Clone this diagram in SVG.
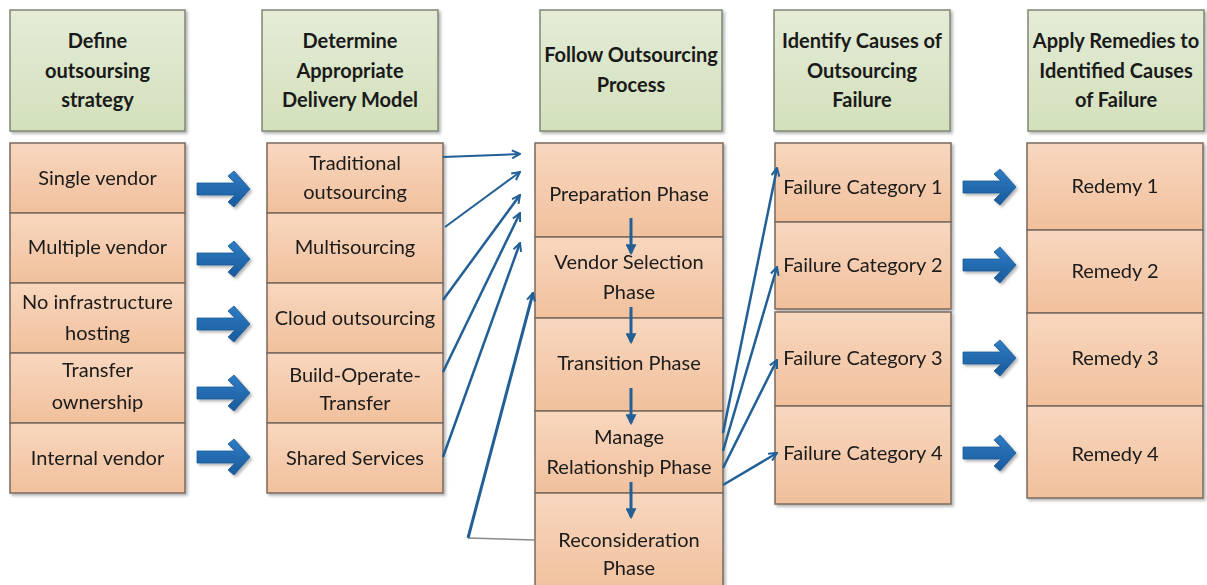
<svg xmlns="http://www.w3.org/2000/svg" width="1207" height="585" viewBox="0 0 1207 585">
  <style>
    .hdr { fill: url(#gGreen); stroke: #7f8774; stroke-width: 1.5; filter: url(#shadow); }
    .cell { fill: url(#gOrange); stroke: #7a6a5e; stroke-width: 1.5; }
    .col { filter: url(#shadow); }
    text { font-family: Lato, "Liberation Sans", sans-serif; fill: #1a1a1a; text-anchor: middle; }
    .ht { font-size: 20px; font-weight: bold; }
    .bt { font-size: 20px; }
    .thin { fill: none; stroke: #215f96; stroke-width: 2.5; marker-end: url(#stick); }
    .down { fill: none; stroke: #215f96; stroke-width: 3; marker-end: url(#tri); }
    .big { fill: url(#gBlue); stroke: #1d5a94; stroke-width: 0.8; filter: url(#shadow); }
  </style>
  <defs>
    <linearGradient id="gGreen" x1="0" y1="0" x2="0" y2="1">
      <stop offset="0" stop-color="#e4ecd7"/>
      <stop offset="1" stop-color="#d3e0bb"/>
    </linearGradient>
    <linearGradient id="gOrange" x1="0" y1="0" x2="0" y2="1">
      <stop offset="0" stop-color="#f8d7bf"/>
      <stop offset="1" stop-color="#f1c09c"/>
    </linearGradient>
    <linearGradient id="gBlue" x1="0" y1="0" x2="0" y2="1">
      <stop offset="0" stop-color="#2f7cc4"/>
      <stop offset="1" stop-color="#195a9c"/>
    </linearGradient>
    <filter id="shadow" x="-10%" y="-10%" width="130%" height="130%">
      <feDropShadow dx="2" dy="2" stdDeviation="1.5" flood-color="#000" flood-opacity="0.3"/>
    </filter>
    <marker id="stick" viewBox="0 0 10 10" refX="9" refY="5" markerWidth="10" markerHeight="10" markerUnits="userSpaceOnUse" orient="auto">
      <path d="M1,1 L9,5 L1,9" fill="none" stroke="#215f96" stroke-width="2"/>
    </marker>
    <marker id="tri" viewBox="0 0 10 10" refX="8" refY="5" markerWidth="11" markerHeight="11" markerUnits="userSpaceOnUse" orient="auto">
      <path d="M0,0 L10,5 L0,10 Z" fill="#215f96"/>
    </marker>
    <!-- thick block arrow, starts at origin and points right -->
    <path id="blockArrow" d="M0,-6 L38,-6 L31,-13 L37,-18 L53,0 L37,18 L31,13 L38,6 L0,6 Z"/>
  </defs>

  <!-- column headers -->
  <g id="hdr-strategy">
    <rect class="hdr" x="10" y="10" width="175" height="121"/>
    <text class="ht" x="97.5" y="48">Define</text>
    <text class="ht" x="97.5" y="78">outsoursing</text>
    <text class="ht" x="97.5" y="107">strategy</text>
  </g>
  <g id="hdr-delivery">
    <rect class="hdr" x="262" y="10" width="176" height="121"/>
    <text class="ht" x="350" y="48">Determine</text>
    <text class="ht" x="350" y="78">Appropriate</text>
    <text class="ht" x="350" y="107">Delivery Model</text>
  </g>
  <g id="hdr-process">
    <rect class="hdr" x="540" y="10" width="182" height="121"/>
    <text class="ht" x="631" y="62">Follow Outsourcing</text>
    <text class="ht" x="631" y="92">Process</text>
  </g>
  <g id="hdr-causes">
    <rect class="hdr" x="774" y="10" width="176" height="121"/>
    <text class="ht" x="862" y="48">Identify Causes of</text>
    <text class="ht" x="862" y="78">Outsourcing</text>
    <text class="ht" x="862" y="107">Failure</text>
  </g>
  <g id="hdr-remedies">
    <rect class="hdr" x="1028" y="10" width="176" height="121"/>
    <text class="ht" x="1116" y="48">Apply Remedies to</text>
    <text class="ht" x="1116" y="78">Identified Causes</text>
    <text class="ht" x="1116" y="107">of Failure</text>
  </g>

  <!-- strategy options -->
  <g class="col">
    <g id="single-vendor">
      <rect class="cell" x="10" y="143" width="175" height="70"/>
      <text class="bt" x="97.5" y="185">Single vendor</text>
    </g>
    <g id="multiple-vendor">
      <rect class="cell" x="10" y="213" width="175" height="70"/>
      <text class="bt" x="97.5" y="254">Multiple vendor</text>
    </g>
    <g id="no-infrastructure">
      <rect class="cell" x="10" y="283" width="175" height="70"/>
      <text class="bt" x="97.5" y="309">No infrastructure</text>
      <text class="bt" x="97.5" y="340">hosting</text>
    </g>
    <g id="transfer-ownership">
      <rect class="cell" x="10" y="353" width="175" height="70"/>
      <text class="bt" x="97.5" y="377">Transfer</text>
      <text class="bt" x="97.5" y="409">ownership</text>
    </g>
    <g id="internal-vendor">
      <rect class="cell" x="10" y="423" width="175" height="70"/>
      <text class="bt" x="97.5" y="465">Internal vendor</text>
    </g>
  </g>

  <!-- delivery models -->
  <g class="col">
    <g id="traditional">
      <rect class="cell" x="267" y="143" width="176" height="70"/>
      <text class="bt" x="355" y="170">Traditional</text>
      <text class="bt" x="355" y="199">outsourcing</text>
    </g>
    <g id="multisourcing">
      <rect class="cell" x="267" y="213" width="176" height="70"/>
      <text class="bt" x="355" y="254">Multisourcing</text>
    </g>
    <g id="cloud">
      <rect class="cell" x="267" y="283" width="176" height="70"/>
      <text class="bt" x="355" y="325">Cloud outsourcing</text>
    </g>
    <g id="bot">
      <rect class="cell" x="267" y="353" width="176" height="70"/>
      <text class="bt" x="355" y="382">Build-Operate-</text>
      <text class="bt" x="355" y="410">Transfer</text>
    </g>
    <g id="shared-services">
      <rect class="cell" x="267" y="423" width="176" height="70"/>
      <text class="bt" x="355" y="465">Shared Services</text>
    </g>
  </g>

  <!-- process phases -->
  <g class="col">
    <g id="preparation">
      <rect class="cell" x="535" y="143" width="188" height="94"/>
      <text class="bt" x="629" y="201">Preparation Phase</text>
    </g>
    <g id="vendor-selection">
      <rect class="cell" x="535" y="237" width="188" height="81"/>
      <text class="bt" x="629" y="269">Vendor Selection</text>
      <text class="bt" x="629" y="299">Phase</text>
    </g>
    <g id="transition">
      <rect class="cell" x="535" y="318" width="188" height="93"/>
      <text class="bt" x="629" y="370">Transition Phase</text>
    </g>
    <g id="manage-relationship">
      <rect class="cell" x="535" y="411" width="188" height="82"/>
      <text class="bt" x="629" y="444">Manage</text>
      <text class="bt" x="629" y="474">Relationship Phase</text>
    </g>
    <g id="reconsideration">
      <rect class="cell" x="535" y="493" width="188" height="100"/>
      <text class="bt" x="629" y="547">Reconsideration</text>
      <text class="bt" x="629" y="575">Phase</text>
    </g>
  </g>

  <!-- failure categories -->
  <g class="col">
    <g id="failure-1">
      <rect class="cell" x="775" y="143" width="176" height="79"/>
      <text class="bt" x="863" y="194">Failure Category 1</text>
    </g>
    <g id="failure-2">
      <rect class="cell" x="775" y="222" width="176" height="87"/>
      <text class="bt" x="863" y="272">Failure Category 2</text>
    </g>
  </g>
  <g class="col">
    <g id="failure-3">
      <rect class="cell" x="775" y="312" width="176" height="94"/>
      <text class="bt" x="863" y="365">Failure Category 3</text>
    </g>
    <g id="failure-4">
      <rect class="cell" x="775" y="406" width="176" height="98"/>
      <text class="bt" x="863" y="460">Failure Category 4</text>
    </g>
  </g>

  <!-- remedies -->
  <g class="col">
    <g id="remedy-1">
      <rect class="cell" x="1027" y="143" width="176" height="87"/>
      <text class="bt" x="1115" y="193">Redemy 1</text>
    </g>
    <g id="remedy-2">
      <rect class="cell" x="1027" y="230" width="176" height="83"/>
      <text class="bt" x="1115" y="278">Remedy 2</text>
    </g>
    <g id="remedy-3">
      <rect class="cell" x="1027" y="313" width="176" height="93"/>
      <text class="bt" x="1115" y="365">Remedy 3</text>
    </g>
    <g id="remedy-4">
      <rect class="cell" x="1027" y="406" width="176" height="92"/>
      <text class="bt" x="1115" y="461">Remedy 4</text>
    </g>
  </g>

  <!-- connectors -->
  <g id="connectors">
    <!-- strategy to delivery model -->
    <use href="#blockArrow" class="big" transform="translate(197,189)"/>
    <use href="#blockArrow" class="big" transform="translate(197,259)"/>
    <use href="#blockArrow" class="big" transform="translate(197,324)"/>
    <use href="#blockArrow" class="big" transform="translate(197,393)"/>
    <use href="#blockArrow" class="big" transform="translate(197,457)"/>

    <!-- delivery models into the process -->
    <line class="thin" x1="443" y1="157" x2="520" y2="154" style="stroke-width:2"/>
    <line class="thin" x1="445" y1="227" x2="520" y2="172" style="stroke-width:2"/>
    <line class="thin" x1="443" y1="300" x2="520" y2="195"/>
    <line class="thin" x1="443" y1="372" x2="520" y2="213"/>
    <line class="thin" x1="443" y1="457" x2="520" y2="243"/>

    <!-- loop back from reconsideration -->
    <polyline points="535,540 468,538" fill="none" stroke="#8a8a8a" stroke-width="1.5"/>
    <line class="thin" x1="468" y1="538" x2="533" y2="293" style="stroke-width:3"/>

    <!-- phase sequence -->
    <line class="down" x1="631" y1="218" x2="631" y2="253"/>
    <line class="down" x1="631" y1="307" x2="631" y2="342"/>
    <line class="down" x1="631" y1="388" x2="631" y2="423"/>
    <line class="down" x1="631" y1="482" x2="631" y2="517"/>

    <!-- relationship phase to failure categories -->
    <line class="thin" x1="723" y1="433" x2="777" y2="168"/>
    <line class="thin" x1="723" y1="451" x2="777" y2="267"/>
    <line class="thin" x1="723" y1="468" x2="777" y2="360"/>
    <line class="thin" x1="723" y1="485" x2="777" y2="453"/>

    <!-- failure categories to remedies -->
    <use href="#blockArrow" class="big" transform="translate(963,187)"/>
    <use href="#blockArrow" class="big" transform="translate(963,265)"/>
    <use href="#blockArrow" class="big" transform="translate(963,358)"/>
    <use href="#blockArrow" class="big" transform="translate(963,453)"/>
  </g>
</svg>
